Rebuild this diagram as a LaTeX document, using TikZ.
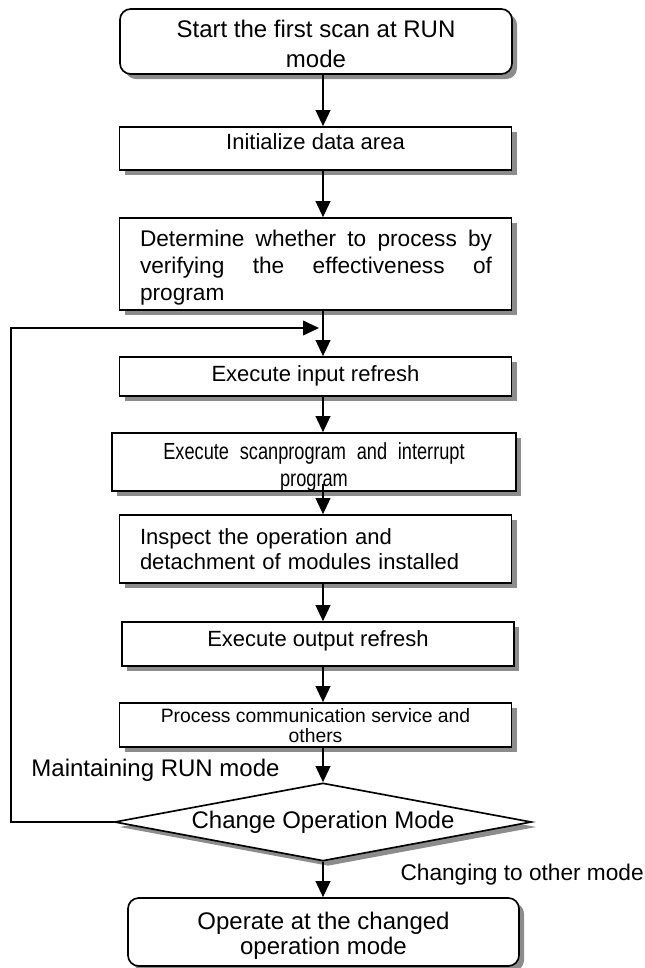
\documentclass[tikz,border=0pt]{standalone}
\usepackage{xcolor}
\usepackage{fontspec}
\setmainfont{Liberation Sans}
\newfontfamily\narrowfont[FakeStretch=0.78]{Liberation Sans}
\usetikzlibrary{positioning, arrows.meta, shapes.geometric, shadows}

\begin{document}
\begin{tikzpicture}[x=0.75pt, y=-0.75pt,
    sombra/.style={drop shadow={shadow xshift=3.75pt, shadow yshift=-3.75pt, fill=black!45, opacity=1}},
    caja/.style={draw, line width=1.25pt, fill=white, rectangle, inner sep=0pt, minimum width=294pt, sombra},
    redonda/.style={caja, rounded corners=8pt},
    rombo/.style={draw, line width=1.25pt, fill=white, diamond, shape aspect=5.35, inner sep=0pt, minimum width=312.75pt, minimum height=58.5pt, sombra},
    texto/.style={inner sep=0pt, align=center},
    flecha/.style={-{Triangle[length=12pt, width=11pt]}, line width=1.4pt},
    grande/.style={font=\fontsize{18}{22}\selectfont},
    media/.style={font=\fontsize{16.5}{20}\selectfont}]
    \useasboundingbox (0,0) rectangle (644,968);

    % Cajas
    \node[redonda, minimum height=48.75pt] (inicio) at (316,41.5) {};
    \node[caja, minimum height=32.25pt] (datos) at (315.5,148.5) {};
    \node[caja, minimum height=69pt] (verifica) at (315.5,264) {};
    \node[caja, minimum height=29.25pt] (entrada) at (315.5,376.5) {};
    \node[caja, minimum width=303pt, minimum height=43.5pt] (escaneo) at (314,462) {};
    \node[caja, minimum height=51pt] (inspecciona) at (315.5,549) {};
    \node[caja, minimum height=33pt] (salida) at (318,644) {};
    \node[caja, minimum height=33pt] (comunica) at (315.5,725) {};
    \node[rombo] (cambio) at (323,822) {};
    \node[redonda, minimum width=293.25pt, minimum height=51pt] (final) at (323.5,932) {};

    % Textos
    \node[texto, grande] (inicio-t) at (316,44) {Start the first scan at RUN\\mode};
    \node[texto, media] (datos-t) at (315.5,142) {Initialize data area};
    \node[texto, font=\fontsize{17}{20.25}\selectfont] (verifica-t) at (316,268)
        {\parbox{264pt}{Determine whether to process by\linebreak verifying the effectiveness of\linebreak program}};
    \node[texto, media] (entrada-t) at (315.5,376) {Execute input refresh};
    \node[texto, font=\narrowfont\fontsize{17.5}{20.25}\selectfont] (escaneo-t) at (314,467)
        {\makebox[226pt][s]{Execute scanprogram and interrupt}\\program};
    \node[texto, text width=264pt, align=left, font=\fontsize{16.5}{18.75}\selectfont] (inspecciona-t) at (316,549)
        {Inspect the operation and\\detachment of modules installed};
    \node[texto, media] (salida-t) at (318,641) {Execute output refresh};
    \node[texto, font=\fontsize{14.5}{15.5}\selectfont] (comunica-t) at (315.5,725.5)
        {Process communication service and\\others};
    \node[texto, grande] (cambio-t) at (323,822) {Change Operation Mode};
    \node[texto, font=\fontsize{18}{18.75}\selectfont] (final-t) at (323.5,936)
        {Operate at the changed\\operation mode};

    % Etiquetas
    \node[texto, grande] (mantiene) at (155.5,770) {Maintaining RUN mode};
    \node[texto, font=\fontsize{17}{20}\selectfont, anchor=east] (cambia) at (644,875) {Changing to other mode};

    % Flechas
    \coordinate (eje) at (323,0);
    \draw[flecha] (inicio.south -| eje) -- (datos.north -| eje);
    \draw[flecha] (datos.south -| eje) -- (verifica.north -| eje);
    \draw[flecha] (verifica.south -| eje) -- (entrada.north -| eje);
    \draw[flecha] (entrada.south -| eje) -- (escaneo.north -| eje);
    \draw[flecha] ([yshift=6pt]escaneo.south -| eje) -- (inspecciona.north -| eje);
    \draw[flecha] (inspecciona.south -| eje) -- (salida.north -| eje);
    \draw[flecha] (salida.south -| eje) -- (comunica.north -| eje);
    \draw[flecha] (comunica.south -| eje) -- (cambio.north);
    \draw[flecha] (cambio.south) -- (final.north -| eje);

    % Lazo de retorno
    \coordinate (lazo) at (11,0);
    \coordinate (retorno) at (319,328);
    \draw[flecha] (cambio.west) -- (cambio.west -| lazo) |- (retorno);
\end{tikzpicture}
\end{document}
